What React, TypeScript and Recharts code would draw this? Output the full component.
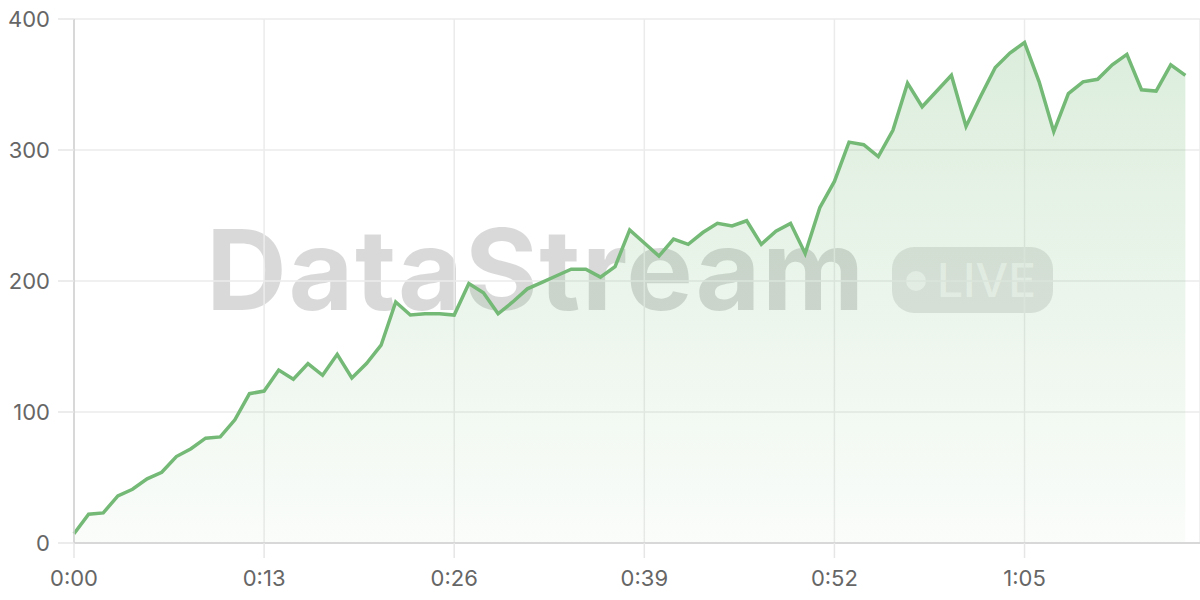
import React from 'react';
import {
  AreaChart, Area, XAxis, YAxis, CartesianGrid,
} from 'recharts';

// one reading per second, 0:00 .. 1:16
const values = [
  7, 22, 23, 36, 41, 49, 54, 66, 72, 80,
  81, 94, 114, 116, 132, 125, 137, 128, 144, 126,
  137, 151, 184, 174, 175, 175, 174, 198, 191, 175,
  184, 194, 199, 204, 209, 209, 203, 211, 239, 229,
  219, 232, 228, 237, 244, 242, 246, 228, 238, 244,
  221, 256, 276, 306, 304, 295, 315, 351, 333, 345,
  357, 318, 341, 363, 374, 382, 352, 314, 343, 352,
  354, 365, 373, 346, 345, 365, 357,
];
const xTicks = [0, 13, 26, 39, 52, 65];
const yTicks = [0, 100, 200, 300, 400];

const data = values.map((v, i) => ({ t: i, value: v }));

const GREEN = '#74b976';
const tickStyle = { fontSize: 22, fill: '#666', fontFamily: 'Inter, sans-serif' };

const fmt = (s: number) => `${Math.floor(s / 60)}:${String(s % 60).padStart(2, '0')}`;

export default function App() {
  return (
    <div style={{ position: 'absolute', left: 0, top: 0, width: 1200, height: 600, background: '#fff' }}>
      {/* watermark */}
      <div
        style={{
          position: 'absolute', left: 206, top: 199,
          fontFamily: 'Inter, sans-serif', fontWeight: 700, fontSize: 112,
          letterSpacing: 1.5, color: 'rgba(0,0,0,0.15)', lineHeight: '140px',
        }}
      >
        DataStream
      </div>
      <div
        style={{
          position: 'absolute', left: 892, top: 247, width: 161, height: 66,
          borderRadius: 22, background: 'rgba(0,0,0,0.1)',
        }}
      >
        <div style={{
          position: 'absolute', left: 14, top: 24, width: 20, height: 20,
          borderRadius: 10, background: 'rgba(255,255,255,0.6)',
        }} />
        <div style={{
          position: 'absolute', left: 45, top: 5, fontFamily: 'Inter, sans-serif',
          fontWeight: 500, fontSize: 46, lineHeight: '56px', color: 'rgba(255,255,255,0.6)',
        }}>LIVE</div>
      </div>
      <div style={{ position: 'absolute', left: 0, top: 0 }}>
        <AreaChart width={1200} height={600} data={data} margin={{ top: 19, right: 0, bottom: 0, left: 0 }}>
          <defs>
            <linearGradient id="fillGreen" x1="0" y1="0" x2="0" y2="1">
              <stop offset="0%" stopColor={GREEN} stopOpacity={0.42} />
              <stop offset="100%" stopColor={GREEN} stopOpacity={0.06} />
            </linearGradient>
          </defs>
          <CartesianGrid stroke="#ebebeb" strokeWidth={1.5} />
          <XAxis
            dataKey="t"
            type="number"
            domain={[0, 77]}
            ticks={xTicks}
            tickFormatter={fmt}
            height={57}
            tickSize={15}
            tickMargin={12}
            tick={tickStyle}
            axisLine={{ stroke: '#d0d0d0', strokeWidth: 1.5 }}
            tickLine={{ stroke: '#e6e6e6', strokeWidth: 1.5 }}
          />
          <YAxis
            domain={[0, 400]}
            ticks={yTicks}
            width={74}
            tickSize={16}
            tickMargin={8}
            tick={tickStyle}
            axisLine={{ stroke: '#d0d0d0', strokeWidth: 1.5 }}
            tickLine={{ stroke: '#e6e6e6', strokeWidth: 1.5 }}
          />
          <Area
            type="linear"
            dataKey="value"
            stroke={GREEN}
            strokeWidth={3.5}
            fill="url(#fillGreen)"
            isAnimationActive={false}
            dot={false}
            activeDot={false}
          />
        </AreaChart>
      </div>
    </div>
  );
}
